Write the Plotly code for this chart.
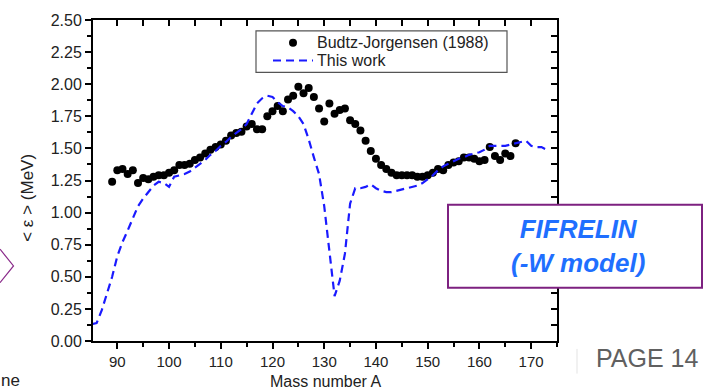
import plotly.graph_objects as go

# Budtz-Jorgensen (1988): mean gamma energy per photon vs fragment mass
bj_mass = list(range(89, 168))
bj_energy = [
    1.24, 1.33, 1.34, 1.30, 1.33, 1.23, 1.27, 1.26, 1.28, 1.29,   # 89-98
    1.29, 1.31, 1.33, 1.37, 1.37, 1.38, 1.41, 1.43, 1.46, 1.49,   # 99-108
    1.51, 1.53, 1.56, 1.60, 1.62, 1.63, 1.67, 1.69, 1.65, 1.65,   # 109-118
    1.75, 1.79, 1.83, 1.79, 1.88, 1.91, 1.98, 1.93, 1.97, 1.90,   # 119-128
    1.81, 1.71, 1.85, 1.77, 1.80, 1.81, 1.72, 1.69, 1.64, 1.56,   # 129-138
    1.48, 1.42, 1.37, 1.34, 1.31, 1.29, 1.29, 1.29, 1.29, 1.28,   # 139-148
    1.28, 1.29, 1.31, 1.34, 1.33, 1.37, 1.39, 1.40, 1.43, 1.43,   # 149-158
    1.42, 1.40, 1.41, 1.51, 1.44, 1.41, 1.46, 1.44, 1.54,         # 159-167
]

# FIFRELIN calculation (this work)
fif_mass = list(range(85, 174))
fif_energy = [
    0.13, 0.14, 0.24, 0.37, 0.50, 0.66, 0.77, 0.86, 0.95, 1.05,   # 85-94
    1.11, 1.16, 1.21, 1.24, 1.23, 1.20, 1.28, 1.29, 1.30, 1.32,   # 95-104
    1.35, 1.38, 1.41, 1.45, 1.48, 1.52, 1.55, 1.59, 1.62, 1.65,   # 105-114
    1.69, 1.77, 1.85, 1.89, 1.91, 1.90, 1.86, 1.83, 1.82, 1.79,   # 115-124
    1.75, 1.69, 1.57, 1.43, 1.30, 1.05, 0.69, 0.35, 0.47, 0.68,   # 125-134
    1.07, 1.19, 1.19, 1.20, 1.22, 1.19, 1.17, 1.16, 1.16, 1.17,   # 135-144
    1.18, 1.19, 1.20, 1.21, 1.23, 1.26, 1.29, 1.33, 1.36, 1.38,   # 145-154
    1.40, 1.42, 1.43, 1.45, 1.46, 1.47, 1.49, 1.52, 1.52, 1.52,   # 155-164
    1.52, 1.53, 1.54, 1.55, 1.56, 1.52, 1.51, 1.51, 1.49,         # 165-173
]

series_names = ["Budtz-Jorgensen (1988)", "This work"]
x_ticks = [90, 100, 110, 120, 130, 140, 150, 160, 170]
y_ticks = [0.00, 0.25, 0.50, 0.75, 1.00, 1.25, 1.50, 1.75, 2.00, 2.25, 2.50]

W, H = 706, 392
ML, MR, MT, MB = 93, 149, 16, 51
PW, PH = W - ML - MR, H - MT - MB


def px_x(p):
    return (p - ML) / PW


def px_y(p):
    return (H - MB - p) / PH


FONT = "Arial, Liberation Sans, sans-serif"
X_RANGE = [85.3, 175]
Y_RANGE = [0, 2.5]
DOT_COLOR = "black"
LINE_COLOR = "#1a1aff"
LINE_DASH = "8px,5px"

fig = go.Figure()
fig.add_trace(go.Scatter(
    x=bj_mass, y=bj_energy, mode="markers", name=series_names[0],
    marker=dict(color=DOT_COLOR, size=8, line=dict(width=0)),
    cliponaxis=False, showlegend=False,
))
fig.add_trace(go.Scatter(
    x=fif_mass, y=fif_energy, mode="lines", name=series_names[1],
    line=dict(color=LINE_COLOR, width=2.2, dash=LINE_DASH),
    showlegend=False,
))
# empty trace so the mirrored top/right frame axes exist
fig.add_trace(go.Scatter(x=[], y=[], xaxis="x2", yaxis="y2",
                         showlegend=False, hoverinfo="skip"))

fig.update_layout(
    width=W, height=H,
    margin=dict(l=ML, r=MR, t=MT, b=MB, pad=0),
    paper_bgcolor="white", plot_bgcolor="white",
    font=dict(family=FONT, color="#222"),
    showlegend=False,
    xaxis=dict(
        range=X_RANGE, tickvals=x_ticks, ticks="outside", ticklen=6,
        tickwidth=1.5, tickcolor="black", showline=True, linecolor="black",
        linewidth=2, showgrid=False, zeroline=False,
        tickfont=dict(family=FONT, size=15, color="#222"),
        minor=dict(dtick=5, tick0=0, ticks="outside", ticklen=4,
                   tickcolor="black", tickwidth=1.5, showgrid=False),
    ),
    yaxis=dict(
        range=Y_RANGE, tickvals=y_ticks, tickformat=".2f", ticks="outside",
        ticklen=6, tickwidth=1.5, tickcolor="black", showline=True,
        linecolor="black", linewidth=2, showgrid=False, zeroline=False,
        tickfont=dict(family=FONT, size=16, color="#222"),
        minor=dict(dtick=0.125, tick0=0, ticks="outside", ticklen=4,
                   tickcolor="black", tickwidth=1.5, showgrid=False),
    ),
    xaxis2=dict(
        range=X_RANGE, overlaying="x", side="top", anchor="y2",
        dtick=5, tick0=0, ticks="inside", ticklen=6, tickwidth=1.5,
        tickcolor="black", showticklabels=False, showline=True,
        linecolor="black", linewidth=2, showgrid=False, zeroline=False,
    ),
    yaxis2=dict(
        range=Y_RANGE, overlaying="y", side="right", anchor="x2",
        dtick=0.125, tick0=0, ticks="inside", ticklen=6, tickwidth=1.5,
        tickcolor="black", showticklabels=False, showline=True,
        linecolor="black", linewidth=2, showgrid=False, zeroline=False,
    ),
)


def paper_text(text, x, y, size, color="#222", xanchor="center",
               yanchor="middle", angle=0):
    fig.add_annotation(
        text=text, xref="paper", yref="paper", x=px_x(x), y=px_y(y),
        xanchor=xanchor, yanchor=yanchor, textangle=angle, showarrow=False,
        font=dict(family=FONT, size=size, color=color),
    )


# legend box with symbol samples
fig.add_shape(type="rect", xref="paper", yref="paper", layer="above",
              x0=px_x(256), x1=px_x(507), y0=px_y(69), y1=px_y(27),
              fillcolor="white", line=dict(color="#555", width=1.2))
fig.add_shape(type="circle", xref="paper", yref="paper", layer="above",
              x0=px_x(289), x1=px_x(297), y0=px_y(43), y1=px_y(35),
              fillcolor=DOT_COLOR, line=dict(width=0))
fig.add_shape(type="line", xref="paper", yref="paper", layer="above",
              x0=px_x(273), x1=px_x(313), y0=px_y(57), y1=px_y(57),
              line=dict(color=LINE_COLOR, width=2.2, dash=LINE_DASH))
paper_text(series_names[0], 315, 39, 16, xanchor="left")
paper_text(series_names[1], 315, 57, 16, xanchor="left")

# axis titles
paper_text("< \u03b5 > (MeV)", 28, 196, 17, angle=-90)
paper_text("Mass number A", 325, 381.5, 16)

# FIFRELIN label box
fig.add_shape(
    type="rect", xref="paper", yref="paper", layer="above",
    x0=px_x(448), x1=px_x(702), y0=px_y(287), y1=px_y(203),
    fillcolor="white", line=dict(color="#7d2180", width=2),
)
paper_text("<b><i>FIFRELIN</i></b><br><b><i>(-W model)</i></b>",
           578, 245, 26, color="#1f6fff")

# slide decorations: page number, separator, chevron, clipped word
fig.add_shape(
    type="line", xref="paper", yref="paper",
    x0=px_x(577), x1=px_x(577), y0=px_y(349), y1=px_y(374),
    line=dict(color="#e3e3e3", width=1),
)
paper_text("PAGE 14", 594, 358, 25, color="#606060", xanchor="left")
fig.add_shape(
    type="path", xref="paper", yref="paper",
    path="M {} {} L {} {} L {} {}".format(
        px_x(0), px_y(248), px_x(13.5), px_y(265), px_x(0), px_y(282)),
    line=dict(color="#8a2a8a", width=1.2),
)
paper_text("ne", -1, 381, 17, xanchor="left")
fig.add_shape(
    type="rect", xref="paper", yref="paper", layer="above",
    x0=px_x(15), x1=px_x(40), y0=px_y(392), y1=px_y(368),
    fillcolor="white", line=dict(width=0),
)

fig.write_html("out.html")
